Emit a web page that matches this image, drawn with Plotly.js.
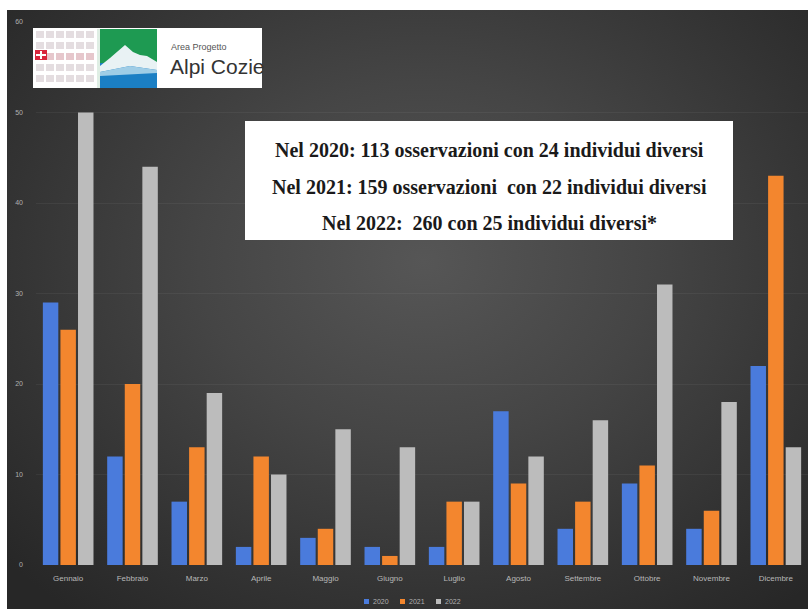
<!DOCTYPE html>
<html>
<head>
<meta charset="utf-8">
<script src="https://cdn.plot.ly/plotly-3.0.1.min.js"></script>
<style>
  html, body { margin: 0; padding: 0; background: #ffffff; }
  #wrap { position: relative; width: 808px; height: 609px; overflow: hidden; background: #ffffff; }
  #bg { position: absolute; left: 7px; top: 10px; right: 0; bottom: 0;
        background: radial-gradient(ellipse 70% 75% at 52% 42%, #565656 0%, #454545 40%, #333333 75%, #272727 100%); }
  #chart { position: absolute; left: 0; top: 0; width: 808px; height: 609px; }
</style>
</head>
<body>
<div id="wrap"><div id="bg"></div><div id="chart"></div></div>
<script>
const months = ["Gennaio","Febbraio","Marzo","Aprile","Maggio","Giugno","Luglio","Agosto","Settembre","Ottobre","Novembre","Dicembre"];
const values2020 = [29, 12, 7, 2, 3, 2, 2, 17, 4, 9, 4, 22];
const values2021 = [26, 20, 13, 12, 4, 1, 7, 9, 7, 11, 6, 43];
const values2022 = [50, 44, 19, 10, 15, 13, 7, 12, 16, 31, 18, 13];
const seriesNames = ["2020", "2021", "2022"];
const seriesColors = ["#4a7bdc", "#f3862e", "#bcbcbc"];
const yTicks = [0, 10, 20, 30, 40, 50, 60];
const infoLines = [
  "Nel 2020: 113 osservazioni con 24 individui diversi",
  "Nel 2021: 159 osservazioni  con 22 individui diversi",
  "Nel 2022:  260 con 25 individui diversi*"
];

// pixel -> paper helpers (plot area: x 36..808, y 22..565)
const L = 36, R = 808, T = 22, B = 565;
const px = x => (x - L) / (R - L);
const py = y => (B - y) / (B - T);

const traces = [values2020, values2021, values2022].map((v, i) => ({
  type: "bar", x: months, y: v, name: seriesNames[i],
  marker: { color: seriesColors[i] }, hoverinfo: "skip", showlegend: false
}));

const shapes = [];
const rect = (x0, y0, x1, y1, color) => shapes.push({
  type: "rect", xref: "paper", yref: "paper",
  x0: px(x0), x1: px(x1), y0: py(y0), y1: py(y1),
  fillcolor: color, line: { width: 0 }, layer: "above"
});
const poly = (pts, color) => shapes.push({
  type: "path", xref: "paper", yref: "paper",
  path: "M" + pts.map(p => px(p[0]) + "," + py(p[1])).join(" L") + " Z",
  fillcolor: color, line: { width: 0 }, layer: "above"
});

// logo
rect(33, 28, 262, 88, "#ffffff");
for (let c = 0; c < 6; c++) {
  for (let r = 0; r < 5; r++) {
    rect(36 + c * 10, 31 + r * 11, 44 + c * 10, 38 + r * 11, (r === 2 ? "#e6c7cc" : "#e4dde0"));
  }
}
rect(35, 50, 47, 60, "#d8263c");
rect(40, 51, 42, 59, "#ffffff");
rect(36, 54, 46, 56, "#ffffff");
rect(97, 29, 100, 88, "#dfeee4");
rect(100, 29, 157, 63, "#1e9a52");
rect(100, 63, 157, 88, "#1b7fc4");
poly([[100, 66], [110, 58], [125, 45], [133, 52], [140, 55], [147, 56], [157, 62], [157, 70], [130, 66], [100, 72]], "#e9f2f4");
poly([[100, 72], [130, 66], [157, 70], [157, 73], [100, 76]], "#9fcde6");

// info box
rect(245, 121, 733, 240, "#ffffff");

const annotations = [
  { text: "Area Progetto", x: px(169), y: py(47), xref: "paper", yref: "paper", xanchor: "left", yanchor: "middle", showarrow: false, font: { family: "Liberation Sans, Arial", size: 9, color: "#555" } },
  { text: "Alpi Cozie", x: px(168), y: py(66), xref: "paper", yref: "paper", xanchor: "left", yanchor: "middle", showarrow: false, font: { family: "Liberation Sans, Arial", size: 21, color: "#333" } }
];
const lineY = [150, 187, 223];
infoLines.forEach((t, i) => annotations.push({
  text: "<b>" + t.replace(/  /g, " \u00A0") + "</b>", x: px(489), y: py(lineY[i]), xref: "paper", yref: "paper",
  xanchor: "center", yanchor: "middle", showarrow: false,
  font: { family: "Liberation Serif, Times New Roman, serif", size: 20, color: "#1a1a1a" }
}));

// legend (bottom centre)
const legX = [364, 400, 436];
seriesNames.forEach((n, i) => {
  rect(legX[i], 599, legX[i] + 5, 604, seriesColors[i]);
  annotations.push({ text: n, x: px(legX[i] + 7), y: py(601.5), xref: "paper", yref: "paper",
    xanchor: "left", yanchor: "middle", showarrow: false,
    font: { family: "Liberation Sans, Arial", size: 7, color: "#b0b0b0" } });
});

const layout = {
  width: 808, height: 609,
  margin: { l: L, r: 808 - R, t: T, b: 609 - B, pad: 0 },
  paper_bgcolor: "rgba(0,0,0,0)", plot_bgcolor: "rgba(0,0,0,0)",
  barmode: "group", bargap: 0.18, bargroupgap: 0.12,
  xaxis: { type: "category", range: [-0.5, 11.5], showgrid: false, zeroline: false, showline: false,
           ticks: "", ticklabelstandoff: 7,
           tickfont: { family: "Liberation Sans, Arial", size: 8, color: "#b8b8b8" } },
  yaxis: { range: [0, 60], tickvals: yTicks, ticktext: yTicks.map(String), showgrid: true,
           gridcolor: "rgba(255,255,255,0.05)", zeroline: false, showline: false, ticks: "",
           ticklabelstandoff: 12,
           tickfont: { family: "Liberation Sans, Arial", size: 7, color: "#b0b0b0" } },
  showlegend: false,
  shapes: shapes, annotations: annotations
};
Plotly.newPlot("chart", traces, layout, { displayModeBar: false, staticPlot: true });
</script>
</body>
</html>
